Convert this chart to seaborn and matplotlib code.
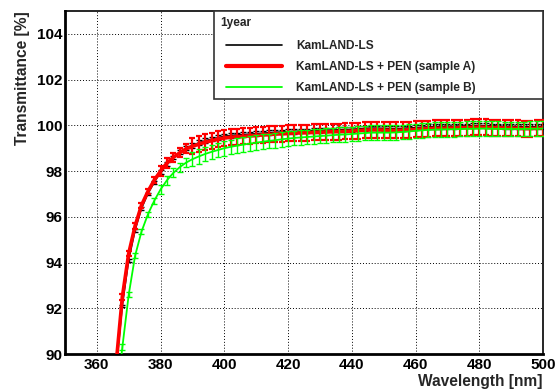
import numpy as np
import pandas as pd
import matplotlib
matplotlib.use("Agg")
import matplotlib.pyplot as plt
from matplotlib.lines import Line2D
from matplotlib.ticker import MultipleLocator
import seaborn as sns

# ---------------- data ----------------
wavelength = list(range(366, 501, 2))

kamland_ls = [89.2, 92.1, 94.1, 95.4, 96.35, 97.0, 97.5, 97.95, 98.3, 98.6,
              98.82, 99.0, 99.13, 99.24, 99.33, 99.4, 99.46, 99.53, 99.56, 99.58,
              99.6, 99.62, 99.64, 99.66, 99.68, 99.7, 99.71, 99.73, 99.74, 99.75,
              99.76, 99.77, 99.78, 99.79, 99.8, 99.81, 99.82, 99.83, 99.85, 99.87,
              99.88, 99.88, 99.87, 99.86, 99.86, 99.87, 99.89, 99.9, 99.92, 99.94,
              99.95, 99.95, 99.96, 99.96, 99.97, 99.98, 99.99, 100.0, 99.99, 99.98,
              99.97, 99.96, 99.96, 99.95, 99.94, 99.94, 99.95, 99.96]

pen_a = [89.5, 92.5, 94.4, 95.6, 96.5, 97.1, 97.6, 98.0, 98.35, 98.6,
         98.8, 98.97, 99.08, 99.18, 99.26, 99.33, 99.39, 99.45, 99.48, 99.5,
         99.52, 99.54, 99.56, 99.58, 99.6, 99.62, 99.63, 99.65, 99.66, 99.67,
         99.68, 99.69, 99.7, 99.71, 99.72, 99.73, 99.74, 99.75, 99.77, 99.79,
         99.8, 99.8, 99.79, 99.78, 99.78, 99.79, 99.81, 99.82, 99.84, 99.86,
         99.87, 99.87, 99.88, 99.88, 99.89, 99.9, 99.91, 99.92, 99.91, 99.9,
         99.89, 99.88, 99.88, 99.87, 99.86, 99.86, 99.87, 99.88]

pen_b = [87.8, 90.3, 92.6, 94.3, 95.35, 96.1, 96.7, 97.2, 97.6, 97.92,
         98.17, 98.37, 98.52, 98.64, 98.75, 98.84, 98.92, 99.0, 99.06, 99.11,
         99.16, 99.2, 99.24, 99.28, 99.32, 99.35, 99.39, 99.42, 99.45, 99.47,
         99.49, 99.51, 99.53, 99.55, 99.57, 99.59, 99.6, 99.62, 99.64, 99.66,
         99.68, 99.68, 99.68, 99.68, 99.69, 99.71, 99.73, 99.76, 99.78, 99.8,
         99.81, 99.82, 99.83, 99.83, 99.84, 99.85, 99.85, 99.86, 99.86, 99.85,
         99.85, 99.84, 99.84, 99.84, 99.84, 99.85, 99.85, 99.86]

err_black = [0.06] * 7 + [0.08] * 5 + [0.1] * 56
err_a = [0.12] * 7 + [0.2] * 5 + [0.35] * 56
err_b = [0.12] * 7 + [0.2] * 5 + [0.32] * 56

labels = ["KamLAND-LS", "KamLAND-LS + PEN (sample A)", "KamLAND-LS + PEN (sample B)"]
legend_title = "1year"
colors = ["#000000", "#ff0000", "#00ff00"]

x_ticks = [360, 380, 400, 420, 440, 460, 480, 500]
y_ticks = [90, 92, 94, 96, 98, 100, 102, 104]

# ---------------- style ----------------
sns.set_theme(style="white")
plt.rcParams['font.family'] = ['Liberation Sans', 'DejaVu Sans']
plt.rcParams['font.weight'] = 'bold'

fig = plt.figure(figsize=(5.56, 3.92), dpi=100)
ax = fig.add_axes([65 / 556, 38 / 392, 478 / 556, 343 / 392])

series = [kamland_ls, pen_a, pen_b]
errs = [err_black, err_a, err_b]
lws = [1.0, 2.6, 1.3]
elws = [1.0, 1.6, 1.0]
for vals, e, lab, col, lw, elw in zip(series, errs, labels, colors, lws, elws):
    df = pd.DataFrame({"wl": wavelength, "T": vals})
    sns.lineplot(data=df, x="wl", y="T", ax=ax, color=col, lw=lw,
                 legend=False, zorder=3)
    ax.errorbar(wavelength, vals, yerr=e, fmt="none", ecolor=col,
                elinewidth=elw, capsize=2.2, capthick=elw, zorder=3)

ax.set_xlim(350, 500)
ax.set_ylim(90, 105)
ax.set_xticks(x_ticks)
ax.set_yticks(y_ticks)
ax.xaxis.set_minor_locator(MultipleLocator(5))
ax.yaxis.set_minor_locator(MultipleLocator(0.5))
ax.tick_params(axis='both', which='both', direction='in', top=False, right=False,
               colors='black')
ax.tick_params(axis='y', which='major', length=10, width=1.2, labelsize=11, pad=2)
ax.tick_params(axis='y', which='minor', length=5, width=1.0)
ax.tick_params(axis='x', which='major', length=8, width=1.2, labelsize=11, pad=3)
ax.tick_params(axis='x', which='minor', length=4, width=1.0)
for lab in ax.get_xticklabels() + ax.get_yticklabels():
    lab.set_fontweight('bold')

ax.grid(True, which='major', color='black', linestyle=(0, (1, 2)), linewidth=0.7)
for s in ['left', 'bottom']:
    ax.spines[s].set_linewidth(2.0)
for s in ['top', 'right']:
    ax.spines[s].set_linewidth(1.2)
for s in ax.spines.values():
    s.set_color('black')
    s.set_visible(True)

ax.set_xlabel("Wavelength [nm]", fontsize=11.2, fontweight='bold', loc='right',
              labelpad=1)
ax.set_ylabel("Transmittance [%]", fontsize=11.2, fontweight='bold', loc='top',
              labelpad=5)

handles = [Line2D([], [], color=c, lw=w) for c, w in zip(colors, [1.2, 3.0, 1.3])]
leg = ax.legend(handles, labels, title=legend_title, loc='upper left',
                bbox_to_anchor=(0.312, 1.0, 0.688, 0.0), mode='expand',
                alignment='left', frameon=True, fancybox=False,
                edgecolor='#333333', framealpha=1, borderaxespad=0,
                handlelength=5.28, handletextpad=1.17, fontsize=8.6,
                labelspacing=0.74, borderpad=0.4,
                title_fontproperties={'weight': 'bold', 'size': 8.6})
leg.get_frame().set_linewidth(1.2)
leg.set_zorder(10)
leg._legend_box.sep = 9.0
for t in leg.get_texts():
    t.set_fontweight('bold')
for ln in leg.get_lines():
    xd = np.asarray(ln.get_xdata(), dtype=float)
    ln.set_xdata(np.linspace(xd[0] + 5.0, xd[-1], len(xd)))
leg.get_title().set_position((1.5, -1.5))

fig.savefig("out.png", dpi=100)
